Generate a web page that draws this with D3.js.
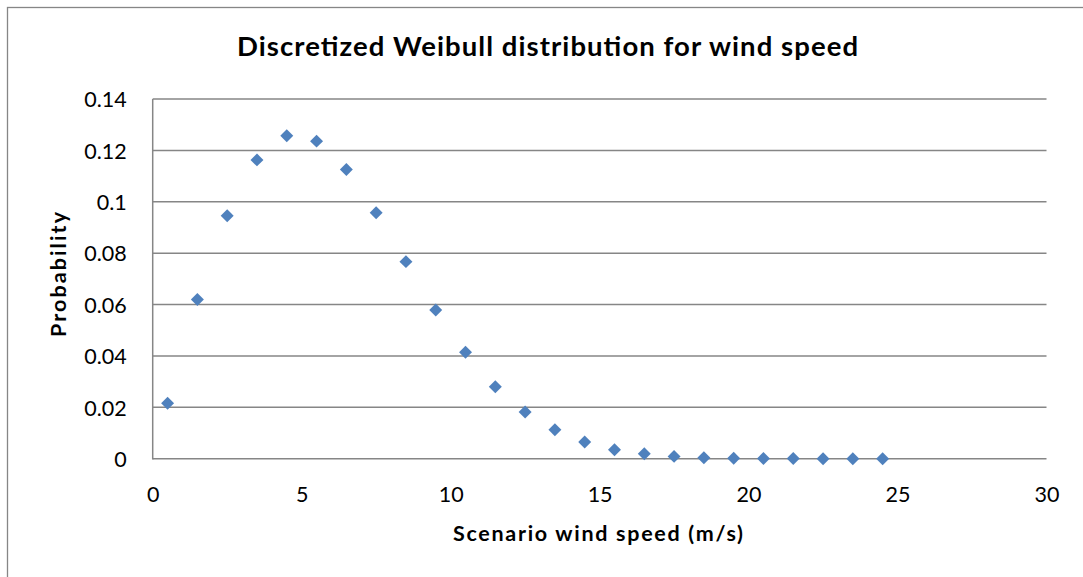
<!DOCTYPE html>
<html>
<head>
<meta charset="utf-8">
<script src="https://cdn.jsdelivr.net/npm/d3@7"></script>
<style>
  html, body { margin: 0; padding: 0; background: #fff; }
  svg { display: block; }
  text { font-family: Lato, "Open Sans", sans-serif; fill: #000; }
</style>
</head>
<body>
<svg id="chart" width="1083" height="577"></svg>
<script>
// Wind speed scenarios (m/s) and their discretized Weibull probabilities
const windSpeeds = [0.5, 1.5, 2.5, 3.5, 4.5, 5.5, 6.5, 7.5, 8.5, 9.5, 10.5, 11.5,
  12.5, 13.5, 14.5, 15.5, 16.5, 17.5, 18.5, 19.5, 20.5, 21.5, 22.5, 23.5, 24.5];
const probabilities = [0.0216, 0.0620, 0.0946, 0.1163, 0.1257, 0.1236, 0.1126, 0.0957,
  0.0767, 0.0579, 0.0414, 0.0280, 0.0182, 0.0113, 0.0065, 0.0035, 0.0019, 0.0009,
  0.0004, 0.0002, 0.0001, 0.00005, 0.00002, 0.00001, 0.000005];
const xTicks = [0, 5, 10, 15, 20, 25, 30];
const yTicks = [0, 0.02, 0.04, 0.06, 0.08, 0.1, 0.12, 0.14];

const title = "Discretized Weibull distribution for wind speed";
const xTitle = "Scenario wind speed (m/s)";
const yTitle = "Probability";

const svg = d3.select("#chart");
const gridColor = "#868686";
const markerColor = "#4F81BD";
const fontStack = "Lato, 'Open Sans', sans-serif";

// Chart frame
svg.append("rect")
  .attr("x", 7.5).attr("y", 7.5)
  .attr("width", 1090).attr("height", 600)
  .attr("fill", "#fff")
  .attr("stroke", gridColor).attr("stroke-width", 1.3);

const plot = { left: 152.7, right: 1046.5, top: 99, bottom: 458.7 };

const x = d3.scaleLinear().domain([0, 30]).range([plot.left, plot.right]);
const y = d3.scaleLinear().domain([0, 0.14]).range([plot.bottom, plot.top]);

// Horizontal gridlines
svg.append("g")
  .selectAll("line")
  .data(yTicks)
  .join("line")
  .attr("x1", plot.left).attr("x2", plot.right)
  .attr("y1", d => y(d)).attr("y2", d => y(d))
  .attr("stroke", gridColor).attr("stroke-width", 1.5);

// Left axis line
svg.append("line")
  .attr("x1", plot.left).attr("x2", plot.left)
  .attr("y1", plot.top).attr("y2", plot.bottom + 0.7)
  .attr("stroke", gridColor).attr("stroke-width", 1.5);

// Y tick labels
const yAxis = d3.axisLeft(y).tickValues(yTicks).tickSize(0).tickPadding(26)
  .tickFormat(d => d === 0 ? "0" : String(+d.toFixed(2)));
const gy = svg.append("g").attr("transform", `translate(${plot.left},0)`).call(yAxis);
gy.select(".domain").remove();
gy.selectAll("text")
  .style("font-family", fontStack)
  .style("font-size", "21.5px").attr("fill", "#000").attr("dy", "0.36em");

// X tick labels
const xAxis = d3.axisBottom(x).tickValues(xTicks).tickSize(0).tickPadding(43);
const gx = svg.append("g").attr("transform", `translate(0,${plot.bottom})`).call(xAxis);
gx.select(".domain").remove();
gx.selectAll("text")
  .style("font-family", fontStack)
  .style("font-size", "21.5px").attr("fill", "#000").attr("dy", "0");

// Diamond markers
const diamond = d3.symbol().type(d3.symbolSquare).size(84);
svg.append("g")
  .selectAll("path")
  .data(windSpeeds.map((s, i) => ({ s, p: probabilities[i] })))
  .join("path")
  .attr("d", diamond)
  .attr("transform", d => `translate(${x(d.s)},${y(d.p)}) rotate(45)`)
  .attr("fill", markerColor);

// Titles
svg.append("text")
  .attr("x", 547.5).attr("y", 56)
  .attr("text-anchor", "middle")
  .attr("textLength", 621).attr("lengthAdjust", "spacing")
  .style("font-size", "27.5px").style("font-weight", "bold")
  .text(title);

svg.append("text")
  .attr("x", 598).attr("y", 540.7)
  .attr("text-anchor", "middle")
  .attr("textLength", 290).attr("lengthAdjust", "spacing")
  .style("font-size", "21.5px").style("font-weight", "bold")
  .text(xTitle);

svg.append("text")
  .attr("transform", `translate(66,274.5) rotate(-90)`)
  .attr("text-anchor", "middle")
  .attr("textLength", 125).attr("lengthAdjust", "spacing")
  .style("font-size", "21.5px").style("font-weight", "bold")
  .text(yTitle);
</script>
</body>
</html>
